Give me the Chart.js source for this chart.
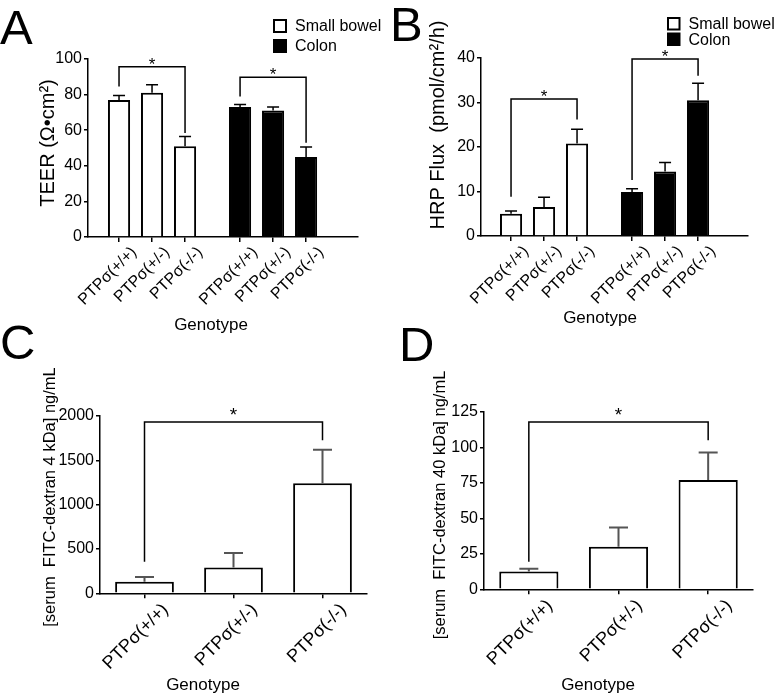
<!DOCTYPE html>
<html>
<head>
<meta charset="utf-8">
<script src="https://cdn.jsdelivr.net/npm/chart.js@4.4.1/dist/chart.umd.min.js"></script>
<style>
  body { margin: 0; background: #fff; }
  #fig { position: relative; width: 780px; height: 696px; background: #fff; font-family: "Liberation Sans", Arial, sans-serif; }
  #fig canvas { position: absolute; }
  .tag { position: absolute; font-size: 49px; line-height: 1; color: #000; }
</style>
</head>
<body>
<div id="fig">
  <canvas id="chartA" width="390" height="340" style="left:0;top:0"></canvas>
  <canvas id="chartB" width="390" height="340" style="left:390px;top:0"></canvas>
  <canvas id="chartC" width="390" height="356" style="left:0;top:340px"></canvas>
  <canvas id="chartD" width="390" height="356" style="left:390px;top:340px"></canvas>
  <div class="tag" style="left:0;top:3px">A</div>
  <div class="tag" style="left:390px;top:0">B</div>
  <div class="tag" style="left:0;top:318px">C</div>
  <div class="tag" style="left:399px;top:320px">D</div>
</div>
<script>
var FONT = '"Liberation Sans", Arial, sans-serif';

var genotypes = ['PTPσ(+/+)', 'PTPσ(+/-)', 'PTPσ(-/-)'];
var tissues = ['Small bowel', 'Colon'];

// A - TEER (Ω•cm²), mean and SEM
var teerSmallBowel = [77, 81, 51];
var teerSmallBowelSem = [2.5, 4.5, 5.5];
var teerColon = [73, 71, 45];
var teerColonSem = [1.5, 2, 5.5];

// B - HRP flux (pmol/cm²/h)
var hrpSmallBowel = [5, 6.5, 20.8];
var hrpSmallBowelSem = [0.6, 2.2, 3.2];
var hrpColon = [9.9, 14.5, 30.5];
var hrpColonSem = [0.7, 2, 3.8];

// C - serum FITC-dextran 4 kDa (ng/mL)
var fitc4 = [130, 290, 1240];
var fitc4Sem = [55, 165, 380];

// D - serum FITC-dextran 40 kDa (ng/mL)
var fitc40 = [12.5, 30, 77];
var fitc40Sem = [2, 13.5, 19.5];

// significance brackets: [from bar, to bar, bracket level, left foot, right foot]
var sigA = [[0, 2, 95.7, 84.6, 58.4], [3, 5, 89.8, 79, 53]];
var sigB = [[0, 2, 30.8, 8.8, 26.2], [3, 5, 39.8, 12.6, 36]];
var sigC = [[0, 2, 1932, 356, 1726]];
var sigD = [[0, 2, 118, 19.4, 105]];

var GAP = 0.667; // extra space between the two tissue groups

var extras = {
  id: 'extras',
  afterDatasetsDraw: function (chart, args, o) {
    var ctx = chart.ctx;
    var ys = chart.scales.y;
    var centers = [];
    ctx.save();
    // error bars (upper only)
    chart.data.datasets.forEach(function (ds, di) {
      chart.getDatasetMeta(di).data.forEach(function (bar, i) {
        var d = ds.data[i];
        var v = typeof d === 'object' ? d.y : d;
        var top = ys.getPixelForValue(v + ds.errors[i]);
        centers.push(bar.x);
        ctx.strokeStyle = o.errColor;
        ctx.lineWidth = o.errWidth;
        ctx.beginPath();
        ctx.moveTo(bar.x, bar.y);
        ctx.lineTo(bar.x, top);
        ctx.moveTo(bar.x - o.cap / 2, top);
        ctx.lineTo(bar.x + o.cap / 2, top);
        ctx.stroke();
      });
    });
    // brackets
    ctx.strokeStyle = '#000';
    ctx.fillStyle = '#000';
    ctx.lineWidth = 1.5;
    o.brackets.forEach(function (b) {
      var x1 = centers[b[0]], x2 = centers[b[1]];
      var yb = ys.getPixelForValue(b[2]);
      ctx.beginPath();
      ctx.moveTo(x1, ys.getPixelForValue(b[3]));
      ctx.lineTo(x1, yb);
      ctx.lineTo(x2, yb);
      ctx.lineTo(x2, ys.getPixelForValue(b[4]));
      ctx.stroke();
      ctx.font = o.starSize + 'px ' + FONT;
      ctx.textAlign = 'center';
      ctx.textBaseline = 'alphabetic';
      ctx.fillText('*', (x1 + x2) / 2, yb + o.starDrop);
    });
    // legend
    if (o.legend) {
      var L = o.legend;
      ctx.font = L.size + 'px ' + FONT;
      ctx.textAlign = 'left';
      ctx.textBaseline = 'middle';
      chart.data.datasets.forEach(function (ds, di) {
        var by = L.y + di * L.step;
        ctx.fillStyle = ds.backgroundColor;
        ctx.fillRect(L.x, by, L.box, L.box);
        ctx.lineWidth = 2;
        ctx.strokeStyle = '#000';
        ctx.strokeRect(L.x, by, L.box, L.box);
        ctx.fillStyle = '#000';
        ctx.fillText(ds.label, L.x + L.box + 9, by + L.box / 2 + 1);
      });
    }
    // axis titles
    ctx.fillStyle = '#000';
    ctx.textAlign = 'center';
    ctx.textBaseline = 'middle';
    ctx.font = o.xTitle.size + 'px ' + FONT;
    ctx.fillText(o.xTitle.text, o.xTitle.at[0], o.xTitle.at[1]);
    ctx.translate(o.yTitle.at[0], o.yTitle.at[1]);
    ctx.rotate(-Math.PI / 2);
    ctx.font = o.yTitle.size + 'px ' + FONT;
    ctx.fillText(o.yTitle.text, 0, 0);
    ctx.restore();
  }
};

function yAxis(max, step, width) {
  return {
    min: 0, max: max,
    ticks: {
      stepSize: step, color: '#000', font: { size: 16, family: FONT }, padding: 2,
      callback: function (v) { return String(v); }
    },
    grid: { display: true, drawOnChartArea: false, drawTicks: true, tickLength: 4, color: '#000', lineWidth: 1.5 },
    border: { color: '#000', width: 1.5 },
    afterFit: function (s) { s.width = width; }
  };
}

function groupedX(min, max, height) {
  var pos = [0, 1, 2, 3 + GAP, 4 + GAP, 5 + GAP];
  return {
    type: 'linear', min: min, max: max, offset: false,
    afterBuildTicks: function (s) { s.ticks = pos.map(function (v) { return { value: v }; }); },
    ticks: {
      autoSkip: false, minRotation: 45, maxRotation: 45, color: '#000', padding: 1, labelOffset: 15,
      font: { size: 16, family: FONT },
      callback: function (v, i) { return genotypes[i % 3]; }
    },
    grid: { display: true, offset: false, drawOnChartArea: false, drawTicks: true, tickLength: 5, color: '#000', lineWidth: 1.5 },
    border: { color: '#000', width: 1.5 },
    afterFit: function (s) { s.height = height; }
  };
}

function categoryX(height) {
  return {
    type: 'category', offset: true,
    ticks: { autoSkip: false, minRotation: 45, maxRotation: 45, color: '#000', padding: 1, labelOffset: 21, font: { size: 18, family: FONT } },
    grid: { display: true, offset: false, drawOnChartArea: false, drawTicks: true, tickLength: 5, color: '#000', lineWidth: 1.5 },
    border: { color: '#000', width: 1.5 },
    afterFit: function (s) { s.height = height; }
  };
}

function groupSet(label, values, errs, shift, fill) {
  return {
    label: label,
    data: values.map(function (v, i) { return { x: i + shift, y: v }; }),
    errors: errs,
    backgroundColor: fill,
    borderColor: '#000',
    borderWidth: 2,
    grouped: false,
    barPercentage: 0.67,
    categoryPercentage: 1
  };
}

function panel(id, data, x, y, pad, ext) {
  return new Chart(document.getElementById(id), {
    type: 'bar',
    data: data,
    options: {
      responsive: false,
      animation: false,
      layout: { padding: pad },
      plugins: { legend: { display: false }, tooltip: { enabled: false }, extras: ext },
      scales: { x: x, y: y }
    },
    plugins: [extras]
  });
}

// A
panel('chartA', {
  datasets: [
    groupSet(tissues[0], teerSmallBowel, teerSmallBowelSem, 0, '#fff'),
    groupSet(tissues[1], teerColon, teerColonSem, 3 + GAP, '#000')
  ]
}, groupedX(-0.94, 7.24, 103), yAxis(100, 20, 88), { left: 0, top: 59, right: 32, bottom: 0 }, {
  errColor: '#000', errWidth: 1.5, cap: 12, brackets: sigA, starSize: 17, starDrop: 3,
  legend: { x: 274, y: 20, step: 20, box: 12, size: 16 },
  xTitle: { text: 'Genotype', at: [211, 325], size: 17 },
  yTitle: { text: 'TEER (Ω•cm²)', at: [48, 143], size: 20 }
});

// B
panel('chartB', {
  datasets: [
    groupSet(tissues[0], hrpSmallBowel, hrpSmallBowelSem, 0, '#fff'),
    groupSet(tissues[1], hrpColon, hrpColonSem, 3 + GAP, '#000')
  ]
}, groupedX(-0.91, 7.18, 104), yAxis(40, 10, 91), { left: 0, top: 58, right: 32, bottom: 0 }, {
  errColor: '#000', errWidth: 1.5, cap: 12, brackets: sigB, starSize: 17, starDrop: 3,
  legend: { x: 278, y: 18, step: 15.5, box: 11.5, size: 16 },
  xTitle: { text: 'Genotype', at: [210, 318], size: 17 },
  yTitle: { text: 'HRP Flux  (pmol/cm²/h)', at: [48, 125], size: 20 }
});

// C
panel('chartC', {
  labels: genotypes,
  datasets: [{
    label: 'FITC-dextran 4 kDa', data: fitc4, errors: fitc4Sem,
    backgroundColor: '#fff', borderColor: '#000', borderWidth: 2, barPercentage: 0.66, categoryPercentage: 1
  }]
}, categoryX(102.7), yAxis(2000, 500, 100), { left: 0, top: 76, right: 23, bottom: 0 }, {
  errColor: '#555', errWidth: 2, cap: 19, brackets: sigC, starSize: 19, starDrop: -1,
  xTitle: { text: 'Genotype', at: [203, 345], size: 17 },
  yTitle: { text: '[serum  FITC-dextran 4 kDa] ng/mL', at: [50, 157], size: 16.5 }
});

// D
panel('chartD', {
  labels: genotypes,
  datasets: [{
    label: 'FITC-dextran 40 kDa', data: fitc40, errors: fitc40Sem,
    backgroundColor: '#fff', borderColor: '#000', borderWidth: 2, barPercentage: 0.66, categoryPercentage: 1
  }]
}, categoryX(106.7), yAxis(125, 25, 94), { left: 0, top: 72, right: 27, bottom: 0 }, {
  errColor: '#555', errWidth: 2, cap: 19, brackets: sigD, starSize: 19, starDrop: -1,
  xTitle: { text: 'Genotype', at: [208, 345], size: 17 },
  yTitle: { text: '[serum  FITC-dextran 40 kDa] ng/mL', at: [50, 165], size: 16.5 }
});
</script>
</body>
</html>
